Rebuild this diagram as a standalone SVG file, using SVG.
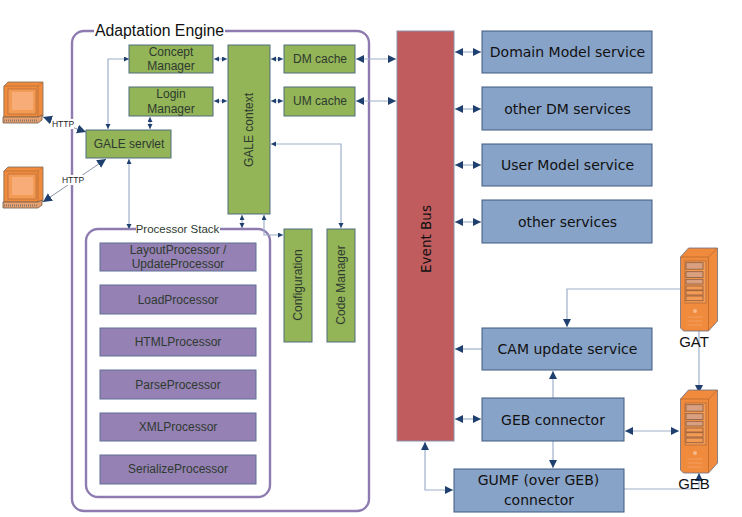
<svg xmlns="http://www.w3.org/2000/svg" xmlns:xlink="http://www.w3.org/1999/xlink" width="742" height="517" viewBox="0 0 742 517">
<style>
text{font-family:"Liberation Sans",Arial,sans-serif;text-anchor:middle;fill:#2e3a30}
.g{fill:#93b457;stroke:#4f6d7e;stroke-width:1}
.b{fill:#88a3c8;stroke:#3f5a80;stroke-width:1}
.p{fill:#9681b4;stroke:#5f6f94;stroke-width:1}
.r{fill:#c05c5e;stroke:#8a8fa8;stroke-width:1}
.f{fill:none;stroke:#8e7cb0;stroke-width:2.4}
.c{fill:none;stroke:#9fb0cc;stroke-width:1.2}
.n{font-size:12px}
.s{font-family:"DejaVu Sans",Verdana,sans-serif;font-size:14px;fill:#111}
.t{font-size:15px;fill:#111}
.h{font-size:8.500px;fill:#222}
.ar{fill:#1f3f6e}
</style>
<defs>
<marker id="a" markerUnits="userSpaceOnUse" markerWidth="6" markerHeight="6" refX="5" refY="2.500" orient="auto-start-reverse"><path class="ar" d="M0 0L5 2.500L0 5Z"/></marker>
<marker id="l" markerUnits="userSpaceOnUse" markerWidth="9" markerHeight="9" refX="8" refY="4" orient="auto-start-reverse"><path class="ar" d="M0 0L8 4L0 8Z"/></marker>
<marker id="x" markerUnits="userSpaceOnUse" markerWidth="11" markerHeight="11" refX="9" refY="4.500" orient="auto-start-reverse"><path class="ar" d="M0 0L9 4.500L0 9Z"/></marker>
<g id="pc">
<path d="M3 5L7 1H42V35L37 37V36H3Z" fill="#f08a3c" stroke="#7a6a5a" stroke-width="0.8"/>
<path d="M3 5H37V36H3Z" fill="#f08a3c" stroke="#a06a3a" stroke-width="0.6"/>
<path d="M7 8H35V33H7Z" fill="#f39a55" stroke="#b8703a" stroke-width="0.8"/>
<path d="M11 11H32V29H11Z" fill="#f8ac78"/>
<path d="M37 5L42 1" stroke="#b8703a" stroke-width="0.6"/>
<path d="M2 36H37L41 34V39L37 42H2Z" fill="#e8a070" stroke="#6a5a4a" stroke-width="0.8"/>
<path d="M3 39.500H36" stroke="#8a7a6a" stroke-width="2" stroke-dasharray="1 1"/>
</g>
<g id="srv">
<path d="M0 9L8 0H37V73L28 83H3L0 80Z" fill="#f08a3c" stroke="#6d7080" stroke-width="0.8"/>
<path d="M0 9H28V83M28 9L37 0" fill="none" stroke="#b86a30" stroke-width="0.8"/>
<rect x="4.500" y="13" width="21" height="42" fill="#f39a55" stroke="#a8653a" stroke-width="0.7"/>
<g fill="#f39a55" stroke="#8a5a3a" stroke-width="0.8">
<rect x="5.500" y="14.700" width="17" height="6.500" fill="#d8a080"/><rect x="5.500" y="23.700" width="17" height="5.700" fill="#d8a080"/><rect x="5.500" y="31.300" width="17" height="4.700" fill="#d8a080"/><rect x="5.500" y="38" width="17" height="4"/><rect x="5.500" y="42.700" width="17" height="4.300"/><rect x="5.500" y="48" width="17" height="4.700"/>
</g>
<circle cx="14.500" cy="63" r="2" fill="#f7b98a"/>
<path d="M7 69H22M7 73H22M7 77H22" stroke="#f5a46c" stroke-width="0.8"/>
</g>
</defs>
<rect width="742" height="517" fill="#fff"/>

<g id="adaptation-engine">
<rect class="f" x="72" y="31" width="297" height="480" rx="12"/>
<rect x="94" y="22" width="131" height="18" fill="#fff"/>
<text x="159.500" y="36" style="font-size:15.800px;fill:#111">Adaptation Engine</text>
</g>
<g id="processor-stack">
<rect class="f" x="86" y="229" width="184" height="268" rx="12"/>
<rect x="136" y="222" width="84" height="14" fill="#fff"/>
<text x="177.500" y="233" style="font-size:11.500px">Processor Stack</text>
</g>

<g id="connectors">
<path class="c" d="M129 59H108V129" marker-start="url(#a)" marker-end="url(#a)"/>
<path class="c" d="M150 117V129" marker-start="url(#a)" marker-end="url(#a)"/>
<path class="c" d="M214 59H227" marker-start="url(#a)" marker-end="url(#a)"/>
<path class="c" d="M214 101H227" marker-start="url(#a)" marker-end="url(#a)"/>
<path class="c" d="M271 59H283" marker-start="url(#a)" marker-end="url(#a)"/>
<path class="c" d="M271 101H283" marker-start="url(#a)" marker-end="url(#a)"/>
<path class="c" d="M356 59H396" marker-start="url(#l)" marker-end="url(#l)"/>
<path class="c" d="M356 101H396" marker-start="url(#l)" marker-end="url(#l)"/>
<path class="c" d="M129 159V229" marker-start="url(#a)" marker-end="url(#a)"/>
<path class="c" d="M242 215V228" marker-start="url(#a)" marker-end="url(#a)"/>
<path class="c" d="M264 215V235H283" marker-start="url(#a)" marker-end="url(#a)"/>
<path class="c" d="M271 144H341V228" marker-start="url(#a)" marker-end="url(#a)"/>
<path class="c" d="M43 117L86 132" marker-start="url(#x)" marker-end="url(#x)" style="stroke:#8a94a8;stroke-width:1"/>
<path class="c" d="M43 202L106 159" marker-start="url(#x)" marker-end="url(#x)" style="stroke:#8a94a8;stroke-width:1"/>
<path class="c" d="M455 52H481" marker-start="url(#l)" marker-end="url(#l)"/>
<path class="c" d="M455 109H481" marker-start="url(#l)" marker-end="url(#l)"/>
<path class="c" d="M455 165H481" marker-start="url(#l)" marker-end="url(#l)"/>
<path class="c" d="M455 222H481" marker-start="url(#l)" marker-end="url(#l)"/>
<path class="c" d="M680 289H567V327" marker-end="url(#l)"/>
<path class="c" d="M482 349H455" marker-end="url(#l)"/>
<path class="c" d="M553 398V371" marker-end="url(#l)"/>
<path class="c" d="M455 419H481" marker-start="url(#l)" marker-end="url(#l)"/>
<path class="c" d="M553 441V468" marker-end="url(#l)"/>
<path class="c" d="M625 431H679" marker-start="url(#l)" marker-end="url(#l)"/>
<path class="c" d="M425 442V490H453" marker-start="url(#l)" marker-end="url(#l)"/>
<path class="c" d="M699 331V393" marker-end="url(#l)"/>
<path class="c" d="M624 489H699V473" marker-end="url(#l)"/>
</g>

<g id="http-labels">
<rect x="52" y="119" width="22" height="10" fill="#fff"/>
<text class="h" x="63" y="127">HTTP</text>
<rect x="62" y="175" width="22" height="10" fill="#fff"/>
<text class="h" x="73" y="183">HTTP</text>
</g>

<g id="client-1"><use xlink:href="#pc" href="#pc" x="1" y="81"/></g>
<g id="client-2"><use xlink:href="#pc" href="#pc" x="1" y="166"/></g>

<g id="concept-manager"><rect class="g" x="129" y="45" width="84" height="28"/><text class="n" x="171" y="56">Concept</text><text class="n" x="171" y="70">Manager</text></g>
<g id="login-manager"><rect class="g" x="129" y="87" width="84" height="29"/><text class="n" x="171" y="98">Login</text><text class="n" x="171" y="113">Manager</text></g>
<g id="gale-servlet"><rect class="g" x="86" y="130" width="85" height="28"/><text class="n" x="129" y="148">GALE servlet</text></g>
<g id="gale-context"><rect class="g" x="228" y="45" width="42" height="169"/><text class="n" transform="translate(253 130) rotate(-90)">GALE context</text></g>
<g id="dm-cache"><rect class="g" x="284" y="45" width="71" height="28"/><text class="n" x="320" y="63">DM cache</text></g>
<g id="um-cache"><rect class="g" x="284" y="87" width="71" height="29"/><text class="n" x="320" y="105">UM cache</text></g>
<g id="configuration"><rect class="g" x="284" y="229" width="28" height="113"/><text class="n" transform="translate(302 285) rotate(-90)">Configuration</text></g>
<g id="code-manager"><rect class="g" x="327" y="229" width="28" height="113"/><text class="n" transform="translate(345 285) rotate(-90)">Code Manager</text></g>

<g id="layout-processor"><rect class="p" x="100" y="243" width="156" height="28"/><text class="n" x="178" y="254">LayoutProcessor /</text><text class="n" x="178" y="268">UpdateProcessor</text></g>
<g id="load-processor"><rect class="p" x="100" y="285" width="156" height="29"/><text class="n" x="178" y="304">LoadProcessor</text></g>
<g id="html-processor"><rect class="p" x="100" y="328" width="156" height="28"/><text class="n" x="178" y="346">HTMLProcessor</text></g>
<g id="parse-processor"><rect class="p" x="100" y="370" width="156" height="29"/><text class="n" x="178" y="389">ParseProcessor</text></g>
<g id="xml-processor"><rect class="p" x="100" y="413" width="156" height="28"/><text class="n" x="178" y="431">XMLProcessor</text></g>
<g id="serialize-processor"><rect class="p" x="100" y="455" width="156" height="29"/><text class="n" x="178" y="473">SerializeProcessor</text></g>

<g id="event-bus"><rect class="r" x="397" y="31" width="57" height="410"/><text class="s" transform="translate(431 239) rotate(-90)" style="font-size:13.500px">Event Bus</text></g>

<g id="domain-model-service"><rect class="b" x="482" y="31" width="170" height="42"/><text class="s" x="567.500" y="57">Domain Model service</text></g>
<g id="other-dm-services"><rect class="b" x="482" y="87" width="170" height="43"/><text class="s" x="567.500" y="114">other DM services</text></g>
<g id="user-model-service"><rect class="b" x="482" y="144" width="170" height="42"/><text class="s" x="567.500" y="170">User Model service</text></g>
<g id="other-services"><rect class="b" x="482" y="200" width="170" height="43"/><text class="s" x="567.500" y="227">other services</text></g>
<g id="cam-update-service"><rect class="b" x="482" y="328" width="170" height="42"/><text class="s" x="567.500" y="354">CAM update service</text></g>
<g id="geb-connector"><rect class="b" x="482" y="398" width="142" height="43"/><text class="s" x="553" y="425">GEB connector</text></g>
<g id="gumf-connector"><rect class="b" x="454" y="469" width="170" height="43"/><text class="s" x="538.500" y="485">GUMF (over GEB)</text><text class="s" x="539" y="505">connector</text></g>

<g id="gat"><use xlink:href="#srv" href="#srv" x="680.500" y="248"/><text class="t" x="694" y="347">GAT</text></g>
<g id="geb"><use xlink:href="#srv" href="#srv" x="680.500" y="390"/><text class="t" x="694" y="489">GEB</text></g>
</svg>
